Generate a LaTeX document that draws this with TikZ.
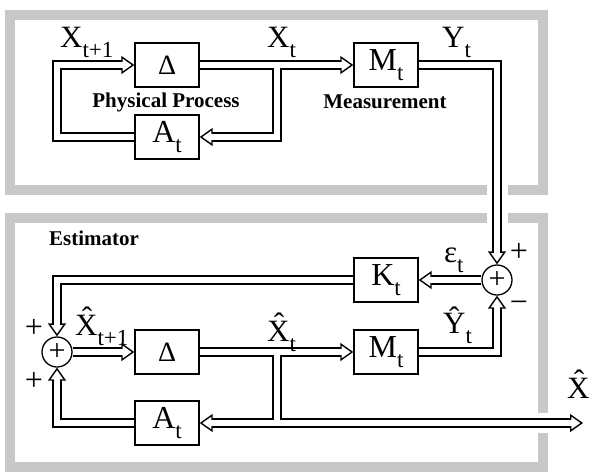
\documentclass[tikz,border=0pt]{standalone}
\usepackage{fontspec}
\setmainfont{Liberation Serif}
\usetikzlibrary{arrows.meta}
\usetikzlibrary{backgrounds}
\definecolor{framegray}{RGB}{200,200,200}

% lowered subscript, larger than a math one
\newcommand\lsub[1]{\raisebox{-10pt}{\fontsize{23}{25}\selectfont #1}}

\tikzset{
  box/.style={draw, line width=1.4pt, fill=white, minimum width=64pt,
    minimum height=44pt, inner sep=0pt, font=\fontsize{32}{34}\selectfont},
  sum/.style={draw, circle, line width=1.3pt, fill=white, minimum size=30pt,
    inner sep=0pt, font=\fontsize{30}{32}\selectfont},
  lbl/.style={anchor=base west, inner sep=0pt, font=\fontsize{31}{33}\selectfont},
  sign/.style={inner sep=0pt, font=\fontsize{32}{34}\selectfont},
  caption/.style={anchor=base, inner sep=0pt, font=\fontsize{21}{24}\selectfont\bfseries},
  frame/.style={framegray, line width=10pt},
}

% every connector is a hollow pipe: drawn once in black, once in white
\newcommand\pipework{%
  % physical process
  \draw[pipe,tip] (d1.east) -- (m1.west);
  \draw[pipe,tip] (j1) |- (a1.east);
  \draw[pipe,tip] (a1.west) -| (c1) -- (d1.west);
  \draw[pipe,tip] (m1.east) -| (s2.north);
  % estimator
  \draw[pipe,tip] (s2.west) -- (k.east);
  \draw[pipe,tip] (k.west) -| (s1.north);
  \draw[pipe,tip] (s1.east) -- (d2.west);
  \draw[pipe,tip] (d2.east) -- (m2.west);
  \draw[pipe,tip] (m2.east) -| (s2.south);
  \draw[pipe] (j2) -- (j3);
  \draw[pipe,tip] (j3) -- (a2.east);
  \draw[pipe,tip] (j3) -- (xout);
  \draw[pipe,tip] (a2.west) -| (s1.south);
}

\begin{document}
\begin{tikzpicture}[x=1pt,y=-1pt]
\useasboundingbox (0,0) rectangle (593,475);

% physical process
\node[box,font=\fontsize{28}{30}\selectfont] (d1) at (167,65) {Δ};
\node[box] (a1) at (167,137) {A\lsub{t}};
\node[box] (m1) at (386,65) {M\lsub{t}};
\coordinate (j1) at (277,65);
\coordinate (c1) at (57,65);
\node[caption] (pp) at (166,107) {Physical Process};
\node[caption] (ms) at (385,108) {Measurement};
\node[lbl] (xnext) at (60,47) {X\lsub{t+1}};
\node[lbl] (xnow) at (267,47) {X\lsub{t}};
\node[lbl] (ynow) at (442,47) {Y\lsub{t}};

% estimator
\node[caption] (est) at (94,245) {Estimator};
\node[sum] (s1) at (57,352) {+};
\node[sum] (s2) at (497,280) {+};
\node[box] (k) at (386,280) {K\lsub{t}};
\node[box,font=\fontsize{28}{30}\selectfont] (d2) at (167,352) {Δ};
\node[box] (m2) at (386,352) {M\lsub{t}};
\node[box] (a2) at (167,423) {A\lsub{t}};
\coordinate (j2) at (277,352);
\coordinate (j3) at (277,423);
\coordinate (xout) at (583,423);
\node[lbl] (xhatnext) at (75,335) {\^{X}\lsub{t+1}};
\node[lbl] (xhatnow) at (267,341) {\^{X}\lsub{t}};
\node[lbl] (yhat) at (443,333) {\^{Y}\lsub{t}};
\node[lbl] (eps) at (444,262) {ε\lsub{t}};
\node[lbl] (xhat) at (567,398) {\^{X}};
\node[sign] (p1) at (34,328) {+};
\node[sign] (p2) at (34,381) {+};
\node[sign] (p3) at (519,252) {+};
\node[sign] (p4) at (519,307) {−};

\begin{pgfonlayer}{background}
% grey frames with gaps for the pipes
\draw[frame] (487,190) -- (10,190) -- (10,15) -- (543,15) -- (543,190) -- (508,190);
\draw[frame] (487,218) -- (10,218) -- (10,467) -- (543,467) -- (543,433);
\draw[frame] (543,413) -- (543,218) -- (508,218);
\tikzset{pipe/.style={line width=9.5pt,black},
  tip/.style={-{Triangle[length=13pt 0 0,width=18pt 0 0,line width=1.4pt 0 0,fill=white]}}}
\pipework
\tikzset{pipe/.style={line width=6.6pt,white},tip/.style={shorten >=11pt}}
\pipework
\end{pgfonlayer}
\end{tikzpicture}
\end{document}
